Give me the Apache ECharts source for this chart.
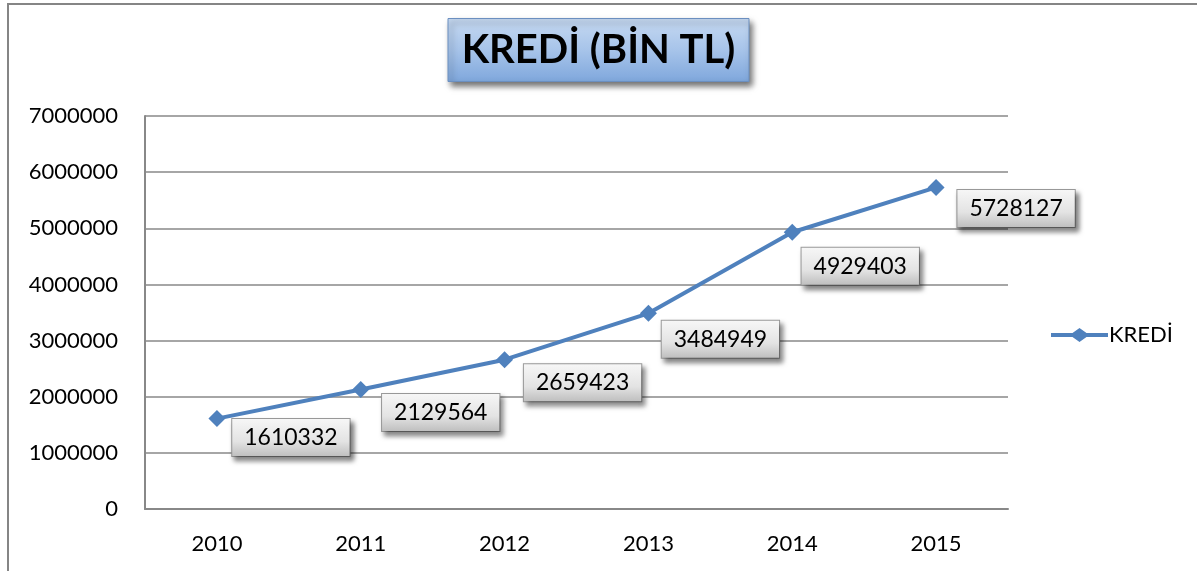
<!DOCTYPE html>
<html>
<head>
<meta charset="utf-8">
<style>
  html, body { margin: 0; padding: 0; background: #fff; }
  #chart { width: 1197px; height: 571px; }
</style>
<script src="https://cdn.jsdelivr.net/npm/echarts@6/dist/echarts.min.js"></script>
</head>
<body>
<div id="chart"></div>
<script>
  // data
  const years = ['2010', '2011', '2012', '2013', '2014', '2015']
  const kredi = [1610332, 2129564, 2659423, 3484949, 4929403, 5728127]
  // where each value box sits relative to its point
  const labelOffsets = [[74, 19], [80, 23], [78, 23], [72, 26], [68, 34], [80, 21]]

  const font = 'Lato, "Open Sans", sans-serif'
  const blue = '#4f81bd'

  const myChart = echarts.init(document.getElementById('chart'))
  myChart.setOption({
    animation: false,
    graphic: [{
      type: 'rect',
      shape: { x: 8, y: 4, width: 1300, height: 700 },
      style: { fill: 'none', stroke: '#858585', lineWidth: 2 },
      silent: true
    }],
    title: {
      text: 'KREDİ (BİN TL)',
      left: 'center',
      top: 18,
      padding: [8, 14, 8, 14],
      backgroundColor: new echarts.graphic.LinearGradient(0, 0, 0, 1, [
        { offset: 0, color: '#c6d9f1' },
        { offset: 0.5, color: '#a7c4ea' },
        { offset: 1, color: '#7fa7dc' }
      ]),
      borderColor: '#6b8fc0',
      borderWidth: 1,
      shadowBlur: 6,
      shadowColor: 'rgba(0,0,0,0.55)',
      shadowOffsetX: 3,
      shadowOffsetY: 4,
      textStyle: {
        fontFamily: font,
        fontSize: 40,
        lineHeight: 48,
        fontWeight: 'bold',
        color: '#000'
      }
    },
    legend: {
      left: 1046,
      top: 319,
      itemWidth: 57,
      itemHeight: 14,
      itemGap: 4,
      icon: 'path://M0,5L21.5,5L28.5,0L35.5,5L57,5L57,9L35.5,9L28.5,14L21.5,9L0,9Z',
      textStyle: { fontFamily: font, fontSize: 22, color: '#000', padding: [0, 0, 0, -4] },
      data: ['KREDİ']
    },
    grid: {
      left: 145,
      right: 189,
      top: 116,
      bottom: 62,
      containLabel: false
    },
    xAxis: {
      type: 'category',
      data: years,
      boundaryGap: true,
      axisLine: { lineStyle: { color: '#888', width: 2 } },
      axisTick: { show: false },
      axisLabel: { fontFamily: font, fontSize: 22, color: '#000', margin: 24 }
    },
    yAxis: {
      type: 'value',
      min: 0,
      max: 7000000,
      interval: 1000000,
      axisLine: { show: true, lineStyle: { color: '#888', width: 2 } },
      axisTick: { show: false },
      splitLine: { lineStyle: { color: '#888', width: 1.5 } },
      axisLabel: {
        fontFamily: font,
        fontSize: 22,
        color: '#000',
        margin: 27,
        formatter: v => String(v)
      }
    },
    series: [{
      name: 'KREDİ',
      type: 'line',
      symbol: 'diamond',
      symbolSize: 17,
      color: blue,
      lineStyle: { width: 4, color: blue },
      itemStyle: { color: blue },
      data: kredi.map((v, i) => ({
        value: v,
        label: { offset: labelOffsets[i] }
      })),
      label: {
        show: true,
        position: 'inside',
        fontFamily: font,
        fontSize: 23,
        color: '#000',
        padding: [8, 12, 6, 12],
        backgroundColor: new echarts.graphic.LinearGradient(0, 0, 0, 1, [
          { offset: 0, color: '#f7f7f7' },
          { offset: 0.6, color: '#e3e3e3' },
          { offset: 1, color: '#bdbdbd' }
        ]),
        borderColor: '#9a9a9a',
        borderWidth: 1,
        shadowBlur: 5,
        shadowColor: 'rgba(0,0,0,0.5)',
        shadowOffsetX: 3,
        shadowOffsetY: 4
      }
    }]
  })
</script>
</body>
</html>
